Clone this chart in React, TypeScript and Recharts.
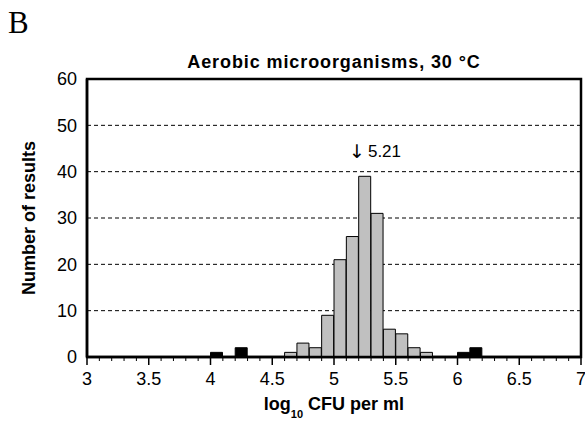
import { BarChart, Bar, XAxis, YAxis, CartesianGrid, ReferenceDot, ReferenceArea } from 'recharts'

// bin centres, 0.1 log units wide, from 3.0 to 7.0
const binCenters = [
  3.05, 3.15, 3.25, 3.35, 3.45, 3.55, 3.65, 3.75, 3.85, 3.95,
  4.05, 4.15, 4.25, 4.35, 4.45, 4.55, 4.65, 4.75, 4.85, 4.95,
  5.05, 5.15, 5.25, 5.35, 5.45, 5.55, 5.65, 5.75, 5.85, 5.95,
  6.05, 6.15, 6.25, 6.35, 6.45, 6.55, 6.65, 6.75, 6.85, 6.95,
]
const inlierCounts = [
  0, 0, 0, 0, 0, 0, 0, 0, 0, 0,
  0, 0, 0, 0, 0, 0, 1, 3, 2, 9,
  21, 26, 39, 31, 6, 5, 2, 1, 0, 0,
  0, 0, 0, 0, 0, 0, 0, 0, 0, 0,
]
const outlierCounts = [
  0, 0, 0, 0, 0, 0, 0, 0, 0, 0,
  1, 0, 2, 0, 0, 0, 0, 0, 0, 0,
  0, 0, 0, 0, 0, 0, 0, 0, 0, 0,
  1, 2, 0, 0, 0, 0, 0, 0, 0, 0,
]
const xTicks = [
  3, 3.1, 3.2, 3.3, 3.4, 3.5, 3.6, 3.7, 3.8, 3.9,
  4, 4.1, 4.2, 4.3, 4.4, 4.5, 4.6, 4.7, 4.8, 4.9,
  5, 5.1, 5.2, 5.3, 5.4, 5.5, 5.6, 5.7, 5.8, 5.9,
  6, 6.1, 6.2, 6.3, 6.4, 6.5, 6.6, 6.7, 6.8, 6.9, 7,
]
const xLabelTicks = [3, 3.5, 4, 4.5, 5, 5.5, 6, 6.5, 7]
const yTicks = [0, 10, 20, 30, 40, 50, 60]
const meanValue = 5.21
const meanLabelY = 44.5

const data = binCenters.map((x, i) => ({ x, inlier: inlierCounts[i], outlier: outlierCounts[i] }))

const FONT = '"Liberation Sans", Arial, sans-serif'

function XTick(props: any) {
  const { x, y, payload } = props
  const v = payload.value
  const major = xLabelTicks.includes(v)
  return (
    <g>
      <line x1={x} x2={x} y1={y} y2={y + (major ? 8 : 4)} stroke="#000" strokeWidth={major ? 1.5 : 1} />
      {major && (
        <text x={x} y={y + 28} textAnchor="middle" fontSize={18} fontFamily={FONT} fill="#000">
          {String(v)}
        </text>
      )}
    </g>
  )
}

export default function App() {
  return (
    <div style={{ position: 'absolute', left: 0, top: 0, width: 585, height: 421, background: '#fff' }}>
      <div style={{ position: 'absolute', left: 8, top: 7, fontFamily: '"Liberation Serif", "Times New Roman", serif', fontSize: 31, lineHeight: '31px' }}>
        B
      </div>
      <div
        style={{
          position: 'absolute', left: 87, top: 53, width: 494, textAlign: 'center',
          fontFamily: FONT, fontWeight: 'bold', fontSize: 18, lineHeight: '18px', letterSpacing: 0.9,
        }}
      >
        Aerobic microorganisms, 30 °C
      </div>
      <BarChart
        width={585}
        height={421}
        data={data}
        margin={{ top: 79, right: 4, bottom: 0, left: 0 }}
        barCategoryGap={0}
        barGap={0}
      >
        <CartesianGrid vertical={false} stroke="#000" strokeDasharray="4 3" />
        <XAxis
          dataKey="x"
          type="number"
          domain={[3, 7]}
          ticks={xTicks}
          interval={0}
          allowDataOverflow
          height={64}
          tickSize={0}
          tickMargin={0}
          tickLine={false}
          tick={<XTick />}
          axisLine={{ stroke: '#000', strokeWidth: 2.5 }}
          label={(p: any) => {
            const vb = p.viewBox
            return (
              <text x={vb.x + vb.width / 2} y={vb.y + 53} textAnchor="middle" fontFamily={FONT} fontWeight="bold" fontSize={18} fill="#000">
                <tspan>log</tspan>
                <tspan fontSize={11} dy={8}>10</tspan>
                <tspan dy={-8}> CFU per ml</tspan>
              </text>
            )
          }}
        />
        <YAxis
          domain={[0, 60]}
          ticks={yTicks}
          width={87}
          tickSize={0}
          tickMargin={10}
          tickLine={false}
          axisLine={{ stroke: '#000', strokeWidth: 2.5 }}
          tick={{ fontSize: 18, fontFamily: FONT, fill: '#000' }}
          label={(p: any) => {
            const vb = p.viewBox
            const cx = vb.x + 35
            const cy = vb.y + vb.height / 2
            return (
              <text x={cx} y={cy} transform={`rotate(-90 ${cx} ${cy})`} textAnchor="middle" fontFamily={FONT} fontWeight="bold" fontSize={18} fill="#000">
                Number of results
              </text>
            )
          }}
        />
        {/* plot frame */}
        <ReferenceArea x1={3} x2={7} y1={0} y2={60} fill="none" fillOpacity={0} stroke="#000" strokeWidth={2.5} ifOverflow="visible" />
        <Bar dataKey="inlier" stackId="a" fill="#c0c0c0" stroke="#000" strokeWidth={1} isAnimationActive={false} />
        <Bar dataKey="outlier" stackId="a" fill="#000" stroke="#000" strokeWidth={1} isAnimationActive={false} />
        <ReferenceDot
          x={meanValue}
          y={meanLabelY}
          r={0}
          shape={(p: any) => (
            <g>
              <text x={p.cx - 3} y={p.cy} dy="0.38em" textAnchor="middle" fontFamily='"DejaVu Sans", sans-serif' fontSize={19} fill="#000" stroke="none">
                ↓
              </text>
              <text x={p.cx + 8} y={p.cy} dy="0.35em" fontFamily={FONT} fontSize={17} fill="#000">
                {meanValue.toFixed(2)}
              </text>
            </g>
          )}
        />
      </BarChart>
    </div>
  )
}
